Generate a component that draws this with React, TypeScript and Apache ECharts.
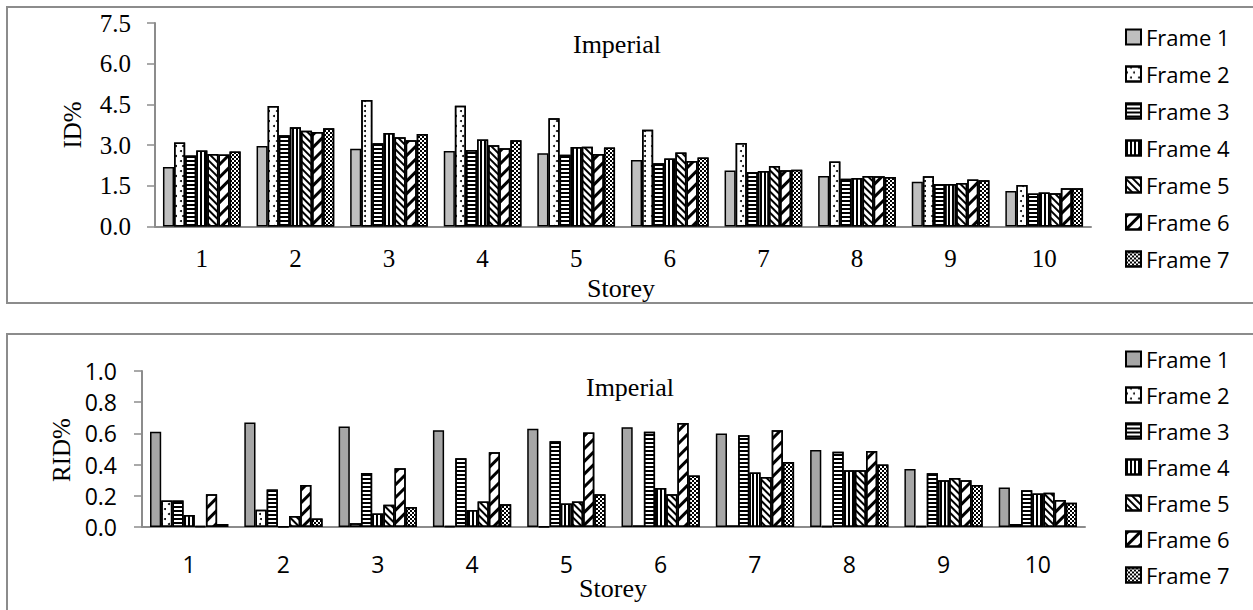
import React, { useEffect, useRef } from "react";
import * as echarts from "echarts";

const storeys = ["1", "2", "3", "4", "5", "6", "7", "8", "9", "10"];
const frameNames = ["Frame 1", "Frame 2", "Frame 3", "Frame 4", "Frame 5", "Frame 6", "Frame 7"];
const idTicks = [0, 1.5, 3.0, 4.5, 6.0, 7.5];
const ridTicks = [0, 0.2, 0.4, 0.6, 0.8, 1.0];

// ID% (top chart)
const idF1 = [2.19, 2.97, 2.87, 2.78, 2.7, 2.45, 2.06, 1.86, 1.65, 1.31];
const idF2 = [3.1, 4.44, 4.66, 4.45, 3.99, 3.57, 3.08, 2.4, 1.85, 1.53];
const idF3 = [2.62, 3.36, 3.07, 2.82, 2.64, 2.33, 2.01, 1.76, 1.57, 1.22];
const idF4 = [2.8, 3.66, 3.45, 3.21, 2.93, 2.51, 2.05, 1.79, 1.57, 1.25];
const idF5 = [2.67, 3.53, 3.29, 2.99, 2.94, 2.73, 2.23, 1.86, 1.6, 1.23];
const idF6 = [2.65, 3.48, 3.18, 2.88, 2.67, 2.41, 2.07, 1.85, 1.73, 1.41];
const idF7 = [2.76, 3.62, 3.41, 3.18, 2.91, 2.54, 2.09, 1.82, 1.7, 1.41];

// RID% (bottom chart)
const ridF1 = [0.61, 0.67, 0.645, 0.62, 0.63, 0.64, 0.6, 0.494, 0.372, 0.254];
const ridF2 = [0.17, 0.11, 0.024, 0.006, 0.004, 0.01, 0.01, 0.006, 0.006, 0.02];
const ridF3 = [0.17, 0.24, 0.346, 0.44, 0.55, 0.61, 0.588, 0.483, 0.344, 0.235];
const ridF4 = [0.077, 0.004, 0.086, 0.109, 0.15, 0.25, 0.35, 0.363, 0.3, 0.214];
const ridF5 = [0.006, 0.07, 0.143, 0.163, 0.163, 0.21, 0.32, 0.363, 0.314, 0.22];
const ridF6 = [0.21, 0.27, 0.376, 0.479, 0.605, 0.667, 0.62, 0.487, 0.3, 0.173];
const ridF7 = [0.02, 0.054, 0.128, 0.146, 0.21, 0.33, 0.417, 0.4, 0.27, 0.156];

const idData = [idF1, idF2, idF3, idF4, idF5, idF6, idF7];
const ridData = [ridF1, ridF2, ridF3, ridF4, ridF5, ridF6, ridF7];

const SERIF = '"Liberation Serif", "Times New Roman", serif';
const SANS = '"Open Sans", "Noto Sans", sans-serif';
const AXIS_GRAY = "#8c8c8c";

const decals: any[] = [
  null,
  { symbol: "circle", symbolSize: 1, color: "#000", dashArrayX: [[2, 5], [0, 3.5, 2, 1.5]], dashArrayY: [2, 3] },
  { symbol: "rect", symbolSize: 1, color: "#000", dashArrayX: [1, 0], dashArrayY: [1.5, 1.5] },
  { symbol: "rect", symbolSize: 1, color: "#000", dashArrayX: [2, 1.7], dashArrayY: [1, 0] },
  { symbol: "rect", symbolSize: 1, color: "#000", dashArrayX: [1, 0], dashArrayY: [2, 2.5], rotation: Math.PI / 4 },
  { symbol: "rect", symbolSize: 1, color: "#000", dashArrayX: [1, 0], dashArrayY: [3, 6], rotation: -Math.PI / 4 },
  { symbol: "rect", symbolSize: 1, color: "#000", dashArrayX: [[1.5, 1.5], [0, 1.5, 1.5, 0]], dashArrayY: [1.5, 0] },
];

function buildSeries(data: number[][], f1Color: string) {
  return data.map((vals, i) => {
    const itemStyle: any = {
      color: i === 0 ? f1Color : "#ffffff",
      borderColor: "#000",
      borderWidth: 1.5,
    };
    if (decals[i]) itemStyle.decal = decals[i];
    return {
      name: frameNames[i],
      type: "bar",
      data: vals,
      barGap: "0%",
      barCategoryGap: "17%",
      itemStyle,
      emphasis: { disabled: true },
    };
  });
}

function textEl(text: string, x: number, y: number, size: number, family: string, rotation = 0) {
  return {
    type: "text",
    x,
    y,
    rotation,
    silent: true,
    style: {
      text,
      fill: "#000",
      fontSize: size,
      fontFamily: family,
      textAlign: "center",
      textVerticalAlign: "middle",
      align: "center",
      verticalAlign: "middle",
    },
  };
}

function topOption(): any {
  return {
    animation: false,
    graphic: [
      {
        type: "rect",
        silent: true,
        shape: { x: 7, y: 7, width: 1260, height: 296 },
        style: { fill: "none", stroke: AXIS_GRAY, lineWidth: 2 },
      },
      textEl("Imperial", 617, 44, 26, SERIF),
      textEl("ID%", 72.5, 125, 25, SERIF, Math.PI / 2),
      textEl("Storey", 621, 288, 26, SERIF),
    ],
    legend: {
      orient: "vertical",
      left: 1120,
      top: 21,
      itemWidth: 15,
      itemHeight: 15,
      itemGap: 15,
      icon: "rect",
      selectedMode: false,
      data: frameNames,
      textStyle: { fontFamily: SANS, fontSize: 22, color: "#000" },
    },
    grid: { left: 155, right: 162, top: 23, height: 203.5 },
    xAxis: {
      type: "category",
      data: storeys,
      axisLine: { lineStyle: { color: AXIS_GRAY, width: 2 } },
      axisTick: { show: false },
      axisLabel: { fontFamily: SERIF, fontSize: 25, color: "#000", margin: 19 },
    },
    yAxis: {
      type: "value",
      min: idTicks[0],
      max: idTicks[idTicks.length - 1],
      interval: 1.5,
      splitLine: { show: false },
      axisLine: { show: true, lineStyle: { color: AXIS_GRAY, width: 2 } },
      axisTick: { show: true, length: 8, lineStyle: { color: AXIS_GRAY, width: 1.5 } },
      axisLabel: {
        fontFamily: SERIF,
        fontSize: 25,
        color: "#000",
        margin: 24,
        formatter: (v: number) => v.toFixed(1),
      },
    },
    series: buildSeries(idData, "#bfbfbf"),
  };
}

function bottomOption(): any {
  return {
    animation: false,
    graphic: [
      {
        type: "rect",
        silent: true,
        shape: { x: 7, y: 16, width: 1260, height: 300 },
        style: { fill: "none", stroke: AXIS_GRAY, lineWidth: 2 },
      },
      textEl("Imperial", 630, 69, 26, SERIF),
      textEl("RID%", 61, 132, 25, SERIF, Math.PI / 2),
      textEl("Storey", 613, 270, 26, SERIF),
    ],
    legend: {
      orient: "vertical",
      left: 1120,
      top: 25,
      itemWidth: 15,
      itemHeight: 15,
      itemGap: 14,
      icon: "rect",
      selectedMode: false,
      data: frameNames,
      textStyle: { fontFamily: SANS, fontSize: 22, color: "#000" },
    },
    grid: { left: 142, right: 168, top: 53, height: 156 },
    xAxis: {
      type: "category",
      data: storeys,
      axisLine: { lineStyle: { color: AXIS_GRAY, width: 2 } },
      axisTick: { show: false },
      axisLabel: { fontFamily: SANS, fontSize: 23, color: "#000", margin: 25 },
    },
    yAxis: {
      type: "value",
      min: ridTicks[0],
      max: ridTicks[ridTicks.length - 1],
      interval: 0.2,
      splitLine: { show: false },
      axisLine: { show: true, lineStyle: { color: AXIS_GRAY, width: 2 } },
      axisTick: { show: true, length: 8, lineStyle: { color: AXIS_GRAY, width: 1.5 } },
      axisLabel: {
        fontFamily: SANS,
        fontSize: 23,
        color: "#000",
        margin: 25,
        formatter: (v: number) => v.toFixed(1),
      },
    },
    series: buildSeries(ridData, "#a6a6a6"),
  };
}

export default function App() {
  const topRef = useRef<HTMLDivElement>(null);
  const botRef = useRef<HTMLDivElement>(null);

  useEffect(() => {
    if (!topRef.current || !botRef.current) return;
    const c1 = echarts.init(topRef.current, null, { renderer: "svg" });
    const c2 = echarts.init(botRef.current, null, { renderer: "svg" });
    c1.setOption(topOption());
    c2.setOption(bottomOption());
    return () => {
      c1.dispose();
      c2.dispose();
    };
  }, []);

  return (
    <div style={{ position: "absolute", left: 0, top: 0, width: 1253, height: 610, background: "#fff", overflow: "hidden" }}>
      <div ref={topRef} style={{ position: "absolute", left: 0, top: 0, width: 1253, height: 318 }} />
      <div ref={botRef} style={{ position: "absolute", left: 0, top: 318, width: 1253, height: 292 }} />
    </div>
  );
}
